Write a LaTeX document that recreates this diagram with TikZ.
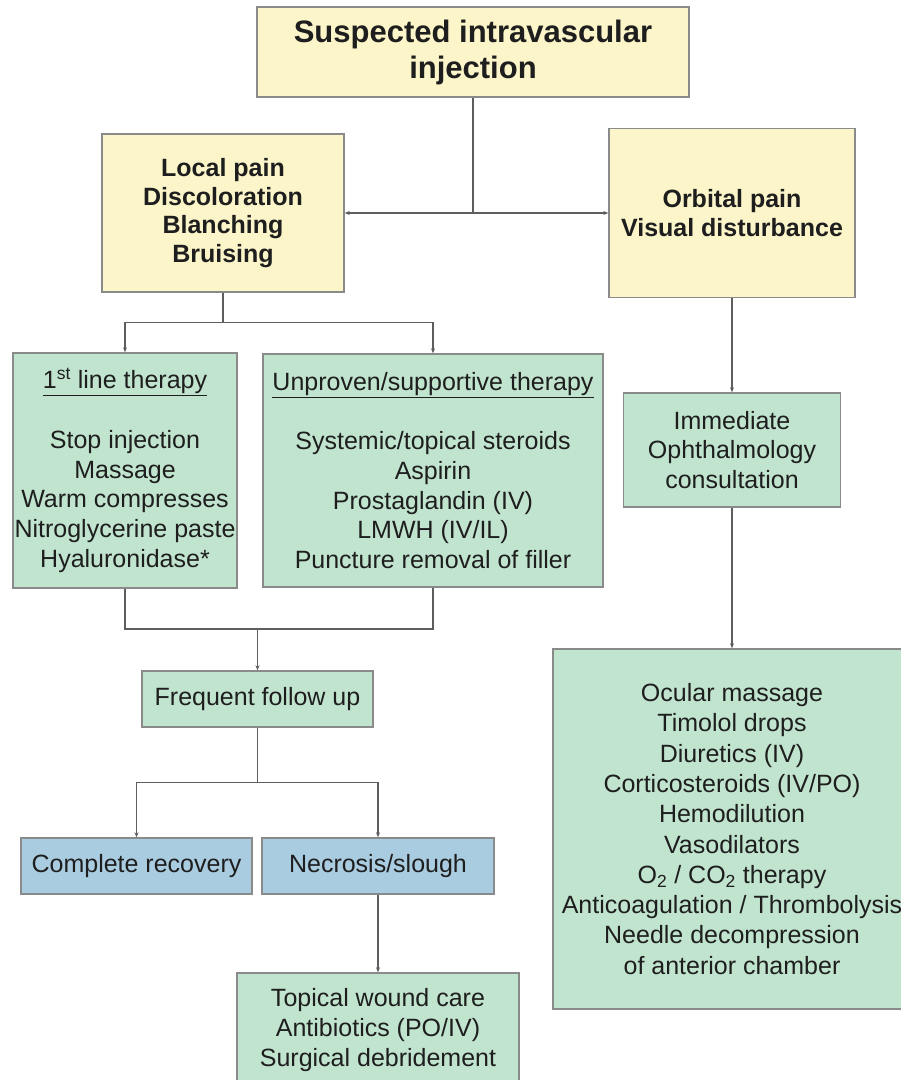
\documentclass[tikz,border=0pt]{standalone}
\usepackage{fontspec}
\setmainfont{Liberation Sans}
\usetikzlibrary{arrows.meta}
\definecolor{ylw}{HTML}{FBF5C9}
\definecolor{grn}{HTML}{C1E4CF}
\definecolor{blu}{HTML}{AACCE0}
\definecolor{edge}{HTML}{8A8A8A}
\definecolor{wire}{HTML}{5E5E5E}
\definecolor{ink}{HTML}{1E1E1E}
\tikzset{
  boxbase/.style={draw=edge, line width=1.4pt, align=center, inner sep=0pt, text=ink,
    font=\fontsize{25}{29.7}\selectfont},
  ybox/.style={boxbase, fill=ylw},
  gbox/.style={boxbase, fill=grn},
  bbox/.style={boxbase, fill=blu},
  wirestyle/.style={draw=wire, line width=1.2pt},
  arr/.style={wirestyle, -{Stealth[length=5pt,width=4pt]}},
}
\begin{document}
\begin{tikzpicture}[x=1pt,y=-1pt]
\useasboundingbox (0,0) rectangle (901,1080);
\fill[white] (0,0) rectangle (901,1080);
\clip (0,0) rectangle (901,1080);

\node[ybox, minimum width=432pt, minimum height=90pt, font=\bfseries\fontsize{31}{36}\selectfont]
  (top) at (473,52) {Suspected intravascular\\injection};
\node[ybox, minimum width=242pt, minimum height=158pt, font=\bfseries\fontsize{25}{28.5}\selectfont]
  (local) at (223,213) {Local pain\\Discoloration\\Blanching\\Bruising};
\node[ybox, minimum width=246pt, minimum height=169pt, font=\bfseries\fontsize{25}{29}\selectfont]
  (orbital) at (732,213) {Orbital pain\\Visual disturbance};

\node[gbox, minimum width=224pt, minimum height=235pt]
  (first) at (125,470.5) {\underline{1\textsuperscript{st} line therapy}\\[29.7pt]Stop injection\\Massage\\Warm compresses\\Nitroglycerine paste\\Hyaluronidase*};
\node[gbox, minimum width=340pt, minimum height=233pt]
  (unproven) at (433,470.5) {\underline{Unproven/supportive therapy}\\[29.7pt]Systemic/topical steroids\\Aspirin\\Prostaglandin (IV)\\LMWH (IV/IL)\\Puncture removal of filler};

\node[gbox, minimum width=217pt, minimum height=114pt]
  (immediate) at (732,450) {Immediate\\Ophthalmology\\consultation};
\node[gbox, minimum width=358pt, minimum height=360pt, font=\fontsize{25}{30.3}\selectfont]
  (ocular) at (732,829) {Ocular massage\\Timolol drops\\Diuretics (IV)\\Corticosteroids (IV/PO)\\Hemodilution\\Vasodilators\\O\textsubscript{2} / CO\textsubscript{2} therapy\\Anticoagulation / Thrombolysis\\Needle decompression\\of anterior chamber};

\node[gbox, minimum width=231pt, minimum height=56pt]
  (follow) at (257.5,699) {Frequent follow up};
\node[bbox, minimum width=231pt, minimum height=56pt]
  (complete) at (136.5,866) {Complete recovery};
\node[bbox, minimum width=232pt, minimum height=56pt]
  (necrosis) at (378,866) {Necrosis/slough};
\node[gbox, minimum width=282pt, minimum height=114pt]
  (topical) at (378,1030) {Topical wound care\\Antibiotics (PO/IV)\\Surgical debridement};

% connectors
\draw[arr] (top.south) |- (local.east);
\draw[arr] (top.south) |- (orbital.west);

\coordinate (lsplit) at ([yshift=-30pt]local.south);
\draw[wirestyle] (local.south) -- (lsplit);
\draw[arr] (lsplit) -| (first.north);
\draw[arr] (lsplit) -| (unproven.north);

\draw[arr] (orbital.south) -- (immediate.north);
\draw[arr] (immediate.south) -- (ocular.north);

\coordinate (jy) at (0,629);
\coordinate (join) at (follow.north |- jy);
\draw[wirestyle] (first.south) |- (join) -| (unproven.south);
\draw[arr] (join) -- (follow.north);

\coordinate (fsplit) at ([yshift=-55pt]follow.south);
\draw[wirestyle] (follow.south) -- (fsplit);
\draw[arr] (fsplit) -| (complete.north);
\draw[arr] (fsplit) -| (necrosis.north);

\draw[arr] (necrosis.south) -- (topical.north);
\end{tikzpicture}
\end{document}
